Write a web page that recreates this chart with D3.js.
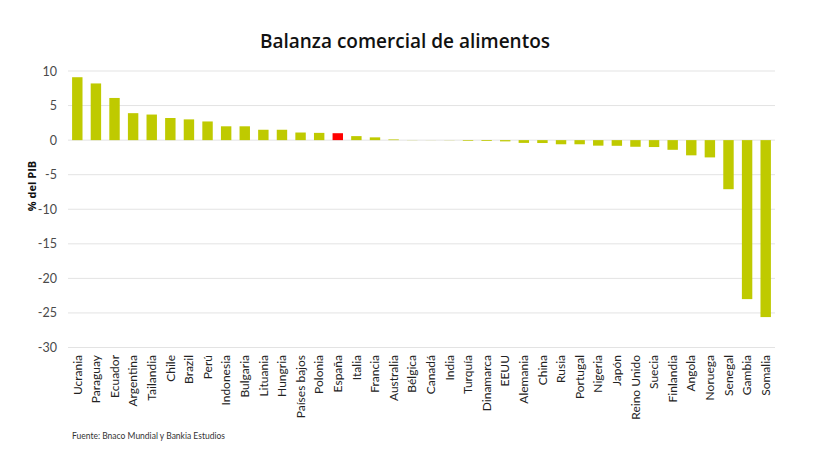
<!DOCTYPE html>
<html><head><meta charset="utf-8">
<script src="https://cdn.jsdelivr.net/npm/d3@7"></script>
<style>body{margin:0;background:#fff;} svg{display:block;}</style>
</head><body>
<svg id="chart" width="830" height="449"></svg>
<script>
const categories = ["Ucrania","Paraguay","Ecuador","Argentina","Tailandia","Chile","Brazil","Perú","Indonesia","Bulgaria","Lituania","Hungria","Países bajos","Polonia","España","Italia","Francia","Australia","Bélgica","Canadá","India","Turquía","Dinamarca","EEUU","Alemania","China","Rusia","Portugal","Nigeria","Japón","Reino Unido","Suecia","Finlandia","Angola","Noruega","Senegal","Gambia","Somalia"];
const values = [9.1,8.2,6.1,3.9,3.7,3.2,3.0,2.7,2.0,2.0,1.5,1.5,1.1,1.05,1.0,0.58,0.4,0.1,0.02,0.01,-0.02,-0.1,-0.12,-0.18,-0.4,-0.42,-0.6,-0.6,-0.8,-0.82,-0.96,-1.0,-1.4,-2.2,-2.5,-7.1,-23.0,-25.6];
const highlight = ["España"];
const yTicks = [10,5,0,-5,-10,-15,-20,-25,-30];
const title = "Balanza comercial de alimentos";
const yLabel = "% del PIB";
const source = "Fuente: Bnaco Mundial y Bankia Estudios";

(function(){
const svg = d3.select("#chart");
const mLeft = 68, mRight = 775, mTop = 71, mBottom = 347.5;
const x = d3.scaleBand().domain(categories).range([mLeft, mRight]).paddingInner(0.44).paddingOuter(0.22);
const y = d3.scaleLinear().domain([-30, 10]).range([mBottom, mTop]);

svg.append("g").selectAll("line").data(yTicks).join("line")
  .attr("x1", mLeft).attr("x2", mRight)
  .attr("y1", d => y(d)).attr("y2", d => y(d))
  .attr("stroke", "#e3e3e3").attr("stroke-width", 1);

const yAxis = svg.append("g").attr("transform", `translate(${mLeft},0)`)
  .call(d3.axisLeft(y).tickValues(yTicks).tickFormat(d => String(d)).tickSize(0).tickPadding(11));
yAxis.select(".domain").remove();
yAxis.selectAll("text").attr("font-family", "Lato, 'Open Sans', sans-serif").attr("font-size", 12.5).attr("fill", "#4a4a4a");

const data = categories.map((c, i) => ({c, v: values[i]}));
svg.append("g").selectAll("rect").data(data).join("rect")
  .attr("x", d => x(d.c)).attr("width", x.bandwidth())
  .attr("y", d => Math.min(y(d.v), y(0)))
  .attr("height", d => Math.abs(y(d.v) - y(0)))
  .attr("fill", d => highlight.includes(d.c) ? "#ff0000" : "#bfca00");

const xAxis = svg.append("g").attr("transform", `translate(0,${mBottom})`)
  .call(d3.axisBottom(x).tickSize(0).tickPadding(0));
xAxis.select(".domain").remove();
xAxis.selectAll("text")
  .attr("font-family", "Lato, 'Open Sans', sans-serif").attr("font-size", 12).attr("fill", "#222")
  .attr("transform", "rotate(-90)")
  .attr("text-anchor", "end").attr("x", -7.5).attr("y", 0).attr("dy", "0.35em");

svg.append("text").attr("x", 405).attr("y", 48).attr("text-anchor", "middle")
  .attr("font-family", "'Open Sans', sans-serif").attr("font-weight", 600).attr("font-size", 19)
  .attr("fill", "#111").text(title);

svg.append("text").attr("transform", `translate(36,186) rotate(-90)`).attr("text-anchor", "middle")
  .attr("font-family", "'Open Sans', sans-serif").attr("font-weight", 700).attr("font-size", 11)
  .attr("fill", "#111").text(yLabel);

svg.append("text").attr("x", 72).attr("y", 439)
  .attr("font-family", "Lato, sans-serif").attr("font-size", 8.5).attr("fill", "#333").text(source);
})();
</script>
</body></html>
